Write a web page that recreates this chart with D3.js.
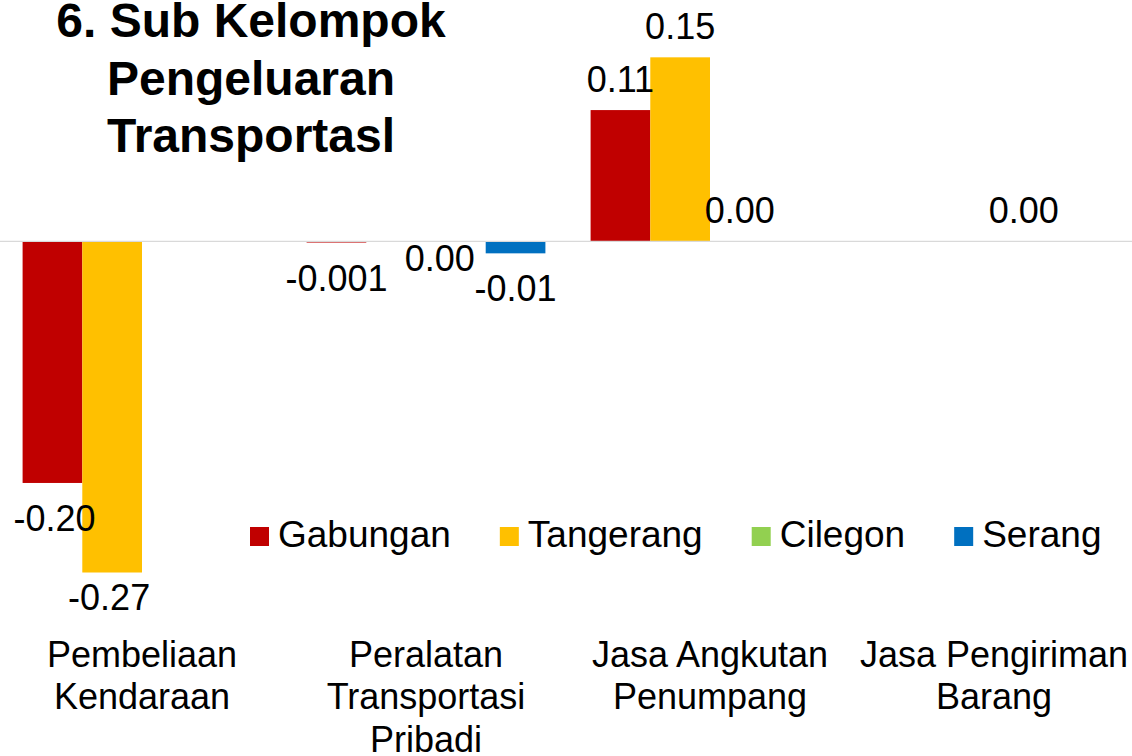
<!DOCTYPE html>
<html>
<head>
<meta charset="utf-8">
<script src="https://cdn.jsdelivr.net/npm/d3@7"></script>
<style>
  body { margin: 0; background: #fff; }
  text { font-family: "Liberation Sans", Arial, sans-serif; fill: #000; }
</style>
</head>
<body>
<script>
// size of the picture
var width = 1132;
var height = 756;

// data
var titleLines = ["6. Sub Kelompok", "Pengeluaran", "Transportasl"];
var categories = ["Pembeliaan\nKendaraan", "Peralatan\nTransportasi\nPribadi",
                  "Jasa Angkutan\nPenumpang", "Jasa Pengiriman\nBarang"];
var seriesNames = ["Gabungan", "Tangerang", "Cilegon", "Serang"];
var gabungan  = [-0.197, -0.001, 0.107, null];
var tangerang = [-0.270, null,   0.150, null];
var cilegon   = [null,   0.00,   0.00,  0.00];
var serang    = [null,  -0.0098, null,  null];
var seriesValues = [gabungan, tangerang, cilegon, serang];

var colors = ["#C00000", "#FFC000", "#92D050", "#0070C0"];

// label nudges (series index, category index, dx, dy) for hand placed labels
var labelNudges = [[1, 0, -3, -11], [2, 1, -16, 48], [0, 0, 2, 0]];

var svg = d3.select("body").append("svg")
    .attr("width", width)
    .attr("height", height);

// scales
var x0 = d3.scaleBand().domain(categories).range([0, 1136]);
var x1 = d3.scaleBand().domain(seriesNames).range([0, x0.bandwidth()]).paddingOuter(0.3785);
var y = d3.scaleLinear().domain([-0.3, 0.2]).range([609.3, -4.0]);

// flat list of bars
var bars = [];
seriesValues.forEach(function(vals, s){
    vals.forEach(function(v, c){
        if (v === null) return;
        bars.push({s: s, c: c, v: v});
    });
});

svg.append("g").selectAll("rect")
    .data(bars)
    .enter().append("rect")
    .attr("x", function(d){ return x0(categories[d.c]) + x1(seriesNames[d.s]); })
    .attr("width", x1.bandwidth())
    .attr("y", function(d){ return Math.min(y(d.v), y(0)); })
    .attr("height", function(d){ return Math.abs(y(d.v) - y(0)); })
    .attr("fill", function(d){ return colors[d.s]; });

// zero line
svg.append("line")
    .attr("x1", 0).attr("x2", width)
    .attr("y1", y(0)).attr("y2", y(0))
    .attr("stroke", "#d9d9d9")
    .attr("stroke-width", 1.3);

// value labels
var loc = d3.formatLocale({decimal: ".", thousands: ",", grouping: [3], currency: ["", ""], minus: "-"});
function fmt(v){
    if (v !== 0 && Math.abs(v) < 0.005 && Math.abs(v) >= 0.0005) return loc.format(".3f")(v);
    return loc.format(".2f")(v);
}
function nudge(d){
    var n = labelNudges.filter(function(k){ return k[0] === d.s && k[1] === d.c; })[0];
    return n ? [n[2], n[3]] : [0, 0];
}

svg.append("g").selectAll("text")
    .data(bars)
    .enter().append("text")
    .attr("text-anchor", "middle")
    .attr("font-size", 36)
    .attr("x", function(d){
        return x0(categories[d.c]) + x1(seriesNames[d.s]) + x1.bandwidth() / 2 + nudge(d)[0];
    })
    .attr("y", function(d){
        var base = d.v >= 0 ? y(d.v) - 18.5 : y(d.v) + 48;
        return base + nudge(d)[1];
    })
    .text(function(d){ return fmt(d.v); });

// category labels
var catText = svg.append("g").selectAll("text")
    .data(categories)
    .enter().append("text")
    .attr("text-anchor", "middle")
    .attr("font-size", 36)
    .attr("transform", function(d){ return "translate(" + (x0(d) + x0.bandwidth() / 2) + ",667)"; });

catText.selectAll("tspan")
    .data(function(d){ return d.split("\n"); })
    .enter().append("tspan")
    .attr("x", 0)
    .attr("y", function(d, i){ return i * 42.3; })
    .text(function(d){ return d; });

// legend
var legend = svg.append("g").attr("transform", "translate(250,527)");
var lx = 0;
seriesNames.forEach(function(name, i){
    var item = legend.append("g").attr("transform", "translate(" + lx + ",0)");
    item.append("rect")
        .attr("width", 19).attr("height", 19)
        .attr("fill", colors[i]);
    var t = item.append("text")
        .attr("x", 28)
        .attr("y", 20)
        .attr("font-size", 37)
        .text(name);
    lx += 28 + t.node().getComputedTextLength() + 49;
});

// title
svg.append("g").selectAll("text")
    .data(titleLines)
    .enter().append("text")
    .attr("text-anchor", "middle")
    .attr("font-size", 48)
    .attr("font-weight", "bold")
    .attr("x", 251)
    .attr("y", function(d, i){ return 37 + i * 57.5; })
    .text(function(d){ return d; });
</script>
</body>
</html>
